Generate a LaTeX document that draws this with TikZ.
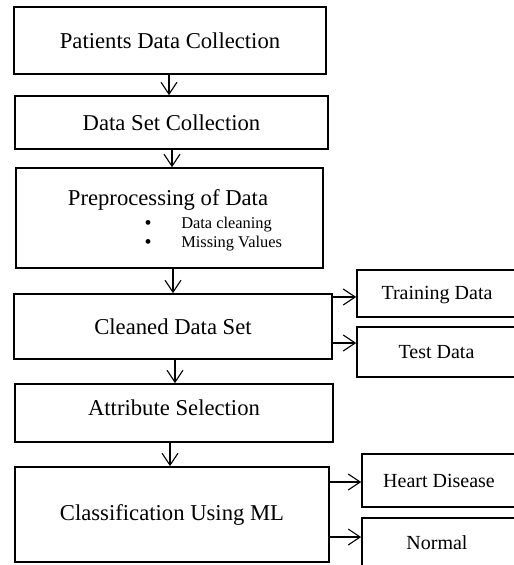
\documentclass[tikz,border=0pt]{standalone}
\usepackage{fontspec}
\setmainfont{Liberation Serif}
\usetikzlibrary{arrows.meta}
\newcommand\pxu{0.75pt}
\tikzset{
  box/.style={draw, line width=1.3pt, inner sep=0pt, rectangle, align=center,
    font=\fontsize{17}{20}\selectfont},
  sidebox/.style={box, font=\fontsize{15}{18}\selectfont},
  arr/.style={line width=0.8pt, -{Straight Barb[length=9pt,width=12pt,line width=0.8pt]}},
  small/.style={inner sep=0pt, font=\fontsize{12.3}{14}\selectfont, anchor=west},
  bul/.style={inner sep=0pt, font=\fontsize{15}{14}\selectfont}
}
\begin{document}
\begin{tikzpicture}[x=0.75pt,y=-0.75pt]
\path[use as bounding box] (0,0) rectangle (514,565);
\clip (0,0) rectangle (514,565);
% main column
\node[box, minimum width=312*\pxu, minimum height=67*\pxu] (b1) at (170,40.5) {Patients Data Collection};
\node[box, minimum width=313*\pxu, minimum height=53*\pxu] (b2) at (171.5,122.5) {Data Set Collection};
\node[box, minimum width=307*\pxu, minimum height=100*\pxu] (b3) at (169.5,218) {};
\node[inner sep=0pt, font=\fontsize{17}{20}\selectfont] (b3t) at (168,200) {Preprocessing of Data};
\node[bul] (bu1) at (148,225) {\textbullet};
\node[bul] (bu2) at (148,244) {\textbullet};
\node[small] (l1) at (181,225) {Data cleaning};
\node[small] (l2) at (181,244) {Missing Values};
\node[box, minimum width=318*\pxu, minimum height=65*\pxu] (b4) at (173,326.5) {Cleaned Data Set};
\node[box, minimum width=318*\pxu, minimum height=58*\pxu] (b5) at (174,413) {};
\node[inner sep=0pt, font=\fontsize{17}{20}\selectfont] (b5t) at (174,408) {Attribute Selection};
\node[box, minimum width=314*\pxu, minimum height=95*\pxu] (b6) at (172,514.5) {Classification Using ML};
% side boxes
\node[sidebox, minimum width=159*\pxu, minimum height=47*\pxu] (tr) at (436.5,293.5) {};
\node[inner sep=0pt, font=\fontsize{15}{18}\selectfont] (trt) at (437,295) {Training Data};
\node[sidebox, minimum width=159*\pxu, minimum height=50*\pxu] (te) at (436.5,352) {Test Data};
\node[sidebox, minimum width=154*\pxu, minimum height=53*\pxu] (hd) at (439,480.5) {Heart Disease};
\node[sidebox, minimum width=154*\pxu, minimum height=54*\pxu] (nm) at (439,545) {};
\node[inner sep=0pt, font=\fontsize{15}{18}\selectfont] (nmt) at (437,543) {Normal};
% arrows down
\draw[arr] (b1.south -| 169,0) -- (b2.north -| 169,0);
\draw[arr] (b2.south -| 172,0) -- (b3.north -| 172,0);
\draw[arr] (b3.south -| 173,0) -- (b4.north -| 173,0);
\draw[arr] (b4.south -| 175,0) -- (b5.north -| 175,0);
\draw[arr] (b5.south -| 170,0) -- (b6.north -| 170,0);
% side arrows
\draw[arr] (b4.east |- 0,297) -- (tr.west |- 0,297);
\draw[arr] (b4.east |- 0,343) -- (te.west |- 0,343);
\draw[arr] (b6.east |- 0,482) -- (hd.west |- 0,482);
\draw[arr] (b6.east |- 0,537) -- (nm.west |- 0,537);
\end{tikzpicture}
\end{document}
